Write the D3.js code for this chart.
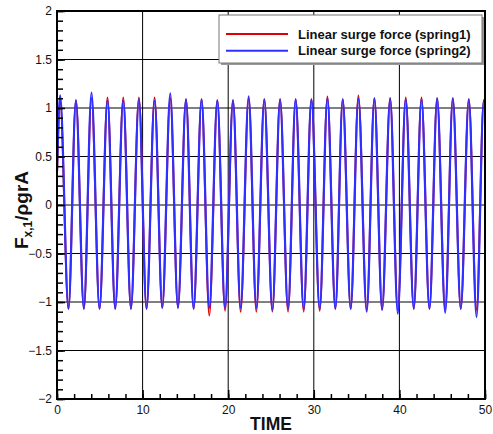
<!DOCTYPE html>
<html>
<head>
<meta charset="utf-8">
<script src="https://cdn.jsdelivr.net/npm/d3@7"></script>
<style>
  html, body { margin: 0; padding: 0; background: #fff; }
  svg { display: block; font-family: "Liberation Sans", Arial, sans-serif; }
</style>
</head>
<body>
<svg id="chart" width="493" height="434"></svg>
<script>
// Times of the oscillation crests and troughs
const peakTimes = [0.37, 2.21, 4.03, 5.90, 7.74, 9.57, 11.40, 13.23, 15.07, 16.89, 18.73, 20.56, 22.39, 24.22,
                   26.06, 27.88, 29.72, 31.59, 33.38, 35.21, 37.08, 38.92, 40.74, 42.58, 44.41, 46.24, 48.11, 49.86];
const troughTimes = [1.34, 3.14, 4.97, 6.80, 8.64, 10.46, 12.30, 14.13, 15.96, 17.79, 19.63, 21.45, 23.29, 25.16,
                     26.99, 28.82, 30.69, 32.52, 34.31, 36.18, 37.98, 39.81, 41.68, 43.51, 45.35, 47.17, 49.01];

// Spring 1 (red)
const spring1Peaks = [1.06, 1.08, 1.10, 1.11, 1.11, 1.11, 1.11, 1.10, 1.09, 1.09, 1.08, 1.08, 1.10, 1.09,
                      1.09, 1.09, 1.09, 1.12, 1.09, 1.13, 1.10, 1.10, 1.11, 1.11, 1.10, 1.10, 1.09, 1.08];
const spring1Troughs = [-1.07, -1.07, -1.07, -1.07, -1.07, -1.07, -1.06, -1.06, -1.07, -1.14, -1.09, -1.10, -1.10, -1.10,
                        -1.10, -1.10, -1.09, -1.07, -1.07, -1.08, -1.08, -1.08, -1.07, -1.07, -1.08, -1.07, -1.08];
// Spring 2 (blue)
const spring2Peaks = [1.13, 1.08, 1.16, 1.08, 1.08, 1.09, 1.08, 1.15, 1.09, 1.09, 1.08, 1.08, 1.12, 1.09,
                      1.09, 1.09, 1.09, 1.10, 1.09, 1.10, 1.10, 1.10, 1.09, 1.09, 1.10, 1.10, 1.09, 1.08];
const spring2Troughs = [-1.07, -1.07, -1.07, -1.07, -1.07, -1.07, -1.06, -1.06, -1.07, -1.06, -1.06, -1.06, -1.06, -1.08,
                        -1.07, -1.07, -1.07, -1.07, -1.07, -1.10, -1.08, -1.12, -1.07, -1.07, -1.11, -1.07, -1.155];
const startTime = 0, endTime = 50;
const spring1Ends = [0.30, 1.07];
const spring2Ends = [0.35, 1.07];

const xTicks = [0, 10, 20, 30, 40, 50];
const yTicks = [-2, -1.5, -1, -0.5, 0, 0.5, 1, 1.5, 2];
const seriesNames = ["Linear surge force (spring1)", "Linear surge force (spring2)"];
const seriesColors = ["#e00000", "#2f2fff"];

function buildSeries(peaks, troughs, ends) {
  const pts = [{ t: startTime, v: ends[0] }];
  peakTimes.forEach((t, i) => pts.push({ t, v: peaks[i] }));
  troughTimes.forEach((t, i) => pts.push({ t, v: troughs[i] }));
  pts.push({ t: endTime, v: ends[1] });
  return pts.sort((a, b) => a.t - b.t);
}
const series = [
  buildSeries(spring1Peaks, spring1Troughs, spring1Ends),
  buildSeries(spring2Peaks, spring2Troughs, spring2Ends)
];

const svg = d3.select("#chart");
const plotL = 57, plotR = 485, plotT = 11, plotB = 399;

const x = d3.scaleLinear().domain([0, 50]).range([plotL, plotR]);
const y = d3.scaleLinear().domain([-2, 2]).range([plotB, plotT]);

// Grid
const grid = svg.append("g");
grid.selectAll("line.gx").data(xTicks.slice(1, -1)).join("line")
  .attr("x1", d => x(d)).attr("x2", d => x(d)).attr("y1", plotT).attr("y2", plotB)
  .attr("stroke", "#000").attr("stroke-width", 1);
grid.selectAll("line.gy").data(yTicks.slice(1, -1)).join("line")
  .attr("x1", plotL).attr("x2", plotR).attr("y1", d => y(d)).attr("y2", d => y(d))
  .attr("stroke", "#000").attr("stroke-width", 1);

// Curves: spring2 drawn over spring1
const line = d3.line().x(d => x(d.t)).y(d => y(d.v)).curve(d3.curveMonotoneX);
svg.append("g").selectAll("path").data(series).join("path")
  .attr("d", line)
  .attr("fill", "none")
  .attr("stroke", (d, i) => seriesColors[i])
  .attr("stroke-width", (d, i) => i === 0 ? 1.9 : 2.2)
  .attr("stroke-linejoin", "round");

// Axes with inward ticks
const yAxis = d3.axisLeft(y).tickValues(yTicks).tickSizeInner(-8).tickSizeOuter(0).tickPadding(5)
  .tickFormat(d3.format("~g"));
const yMinor = d3.axisLeft(y).tickValues(d3.range(-20, 21).map(v => v / 10)).tickSizeInner(-6).tickSizeOuter(0).tickFormat("");
const xAxis = d3.axisBottom(x).tickValues(xTicks).tickSizeInner(-9).tickSizeOuter(0).tickPadding(6);
const xMinor = d3.axisBottom(x).tickValues(d3.range(0, 51, 2)).tickSizeInner(-5).tickSizeOuter(0).tickFormat("");

function styleAxis(g) {
  g.select(".domain").remove();
  g.selectAll(".tick line").attr("stroke", "#000").attr("stroke-width", 1.5);
  g.selectAll(".tick text").attr("fill", "#111").style("font-size", "12px")
    .style("font-family", "'Liberation Sans', Arial, sans-serif");
}
svg.append("g").attr("transform", `translate(${plotL},0)`).call(yMinor).call(styleAxis);
svg.append("g").attr("transform", `translate(${plotL},0)`).call(yAxis).call(styleAxis);
svg.append("g").attr("transform", `translate(0,${plotB})`).call(xMinor).call(styleAxis);
svg.append("g").attr("transform", `translate(0,${plotB})`).call(xAxis).call(styleAxis);

// Frame
svg.append("rect").attr("x", plotL).attr("y", plotT).attr("width", plotR - plotL).attr("height", plotB - plotT)
  .attr("fill", "none").attr("stroke", "#000").attr("stroke-width", 2);

// Axis titles
svg.append("text").attr("x", (plotL + plotR) / 2).attr("y", 430).attr("text-anchor", "middle")
  .style("font-weight", "bold").style("font-size", "17.5px").attr("fill", "#111").text("TIME");

const yt = svg.append("text").attr("transform", "translate(28,210) rotate(-90)").attr("text-anchor", "middle")
  .style("font-weight", "bold").style("font-size", "19px").attr("fill", "#111");
yt.append("tspan").text("F");
yt.append("tspan").attr("dy", 4).style("font-size", "12px").text("x,1");
yt.append("tspan").attr("dy", -4).text("/ρgrA");

// Legend
const lg = svg.append("g");
lg.append("rect").attr("x", 221).attr("y", 17).attr("width", 263).attr("height", 48).attr("fill", "#999");
lg.append("rect").attr("x", 219).attr("y", 15).attr("width", 263).attr("height", 48)
  .attr("fill", "#fff").attr("stroke", "#777").attr("stroke-width", 1);
seriesNames.forEach((name, i) => {
  const cy = 34 + i * 16.7;
  lg.append("line").attr("x1", 226).attr("x2", 288).attr("y1", cy).attr("y2", cy)
    .attr("stroke", seriesColors[i]).attr("stroke-width", 2);
  lg.append("text").attr("x", 298).attr("y", cy + 4.5)
    .style("font-weight", "bold").style("font-size", "13px").attr("fill", "#111").text(name);
});
</script>
</body>
</html>
